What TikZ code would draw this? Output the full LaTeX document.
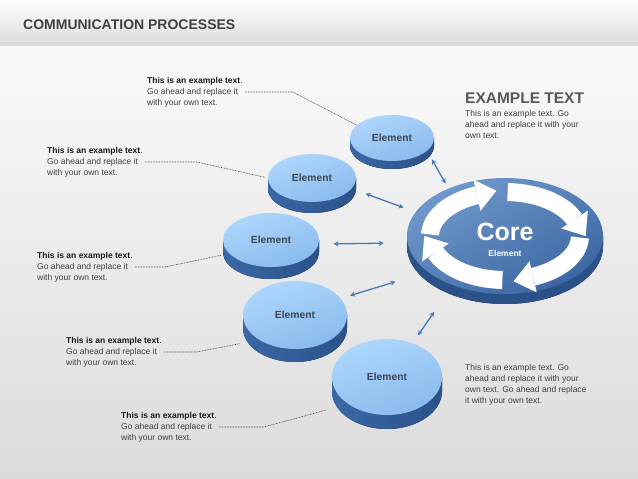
\documentclass[tikz,border=0pt]{standalone}
\usepackage{fontspec}
\setmainfont{Liberation Sans}
\usetikzlibrary{shapes.geometric,arrows.meta,positioning,calc}

\definecolor{facelight}{HTML}{AED6FC}
\definecolor{facedark}{HTML}{88BAEC}
\definecolor{sidedark}{HTML}{3A68A6}
\definecolor{sidelight}{HTML}{8EBBEA}
\definecolor{sideshadow}{HTML}{2B5189}
\definecolor{corelight}{HTML}{7098CB}
\definecolor{coredark}{HTML}{3C67A2}
\definecolor{linkblue}{HTML}{4A78B4}
\definecolor{labelgrey}{HTML}{3C4650}
\definecolor{textgrey}{HTML}{404040}

\tikzset{
    disktop/.style={ellipse, inner sep=0pt, outer sep=0pt,
        top color=facelight, bottom color=facedark, shading angle=20,
        font=\fontsize{10.3}{12}\selectfont\bfseries, text=labelgrey},
    diskside/.style={left color=sidedark, middle color=sidelight, right color=sideshadow},
    coretop/.style={ellipse, inner sep=0pt, outer sep=0pt,
        top color=corelight, bottom color=coredark, shading angle=30},
    coreside/.style={left color=sideshadow, middle color=sidedark, right color=sideshadow},
    coretitle/.style={font=\fontsize{25}{27}\selectfont\bfseries, text=white, inner sep=0pt},
    coresub/.style={font=\fontsize{8.5}{10}\selectfont\bfseries, text=white},
    ringband/.style={draw=white, line width=18pt},
    link/.style={draw=linkblue, line width=1.3pt,
        {Stealth[length=5pt,width=5pt]}-{Stealth[length=5pt,width=5pt]}},
    leader/.style={draw=textgrey, line width=0.6pt, dash pattern=on 0.8pt off 0.8pt},
    note/.style={anchor=west, align=left, inner sep=2pt, text=textgrey,
        font=\fontsize{8.5}{11}\selectfont},
    body/.style={align=left, inner sep=2pt, text=textgrey,
        font=\fontsize{8.5}{11}\selectfont},
    heading/.style={anchor=west, inner sep=2pt, text=black!65,
        font=\fontsize{15.5}{17}\selectfont\bfseries},
}

% name, x, y, x radius, y radius, thickness
\newcommand{\elemdisk}[6]{%
    \fill[diskside] (#2-#4,#3) -- ++(0,-#6)
        arc[start angle=180, end angle=360, x radius=#4pt, y radius=#5pt]
        -- ++(0,#6) -- cycle;
    \node[disktop, minimum width=2*#4pt, minimum height=2*#5pt] (#1) at (#2,#3) {Element};
}

\begin{document}
\begin{tikzpicture}[x=1pt, y=1pt]
    \useasboundingbox (0,0) rectangle (638,-479);
    \fill[top color=black!2, bottom color=black!14] (0,-45) rectangle (638,-479);
    \fill[top color=white, bottom color=black!14] (0,0) rectangle (638,-45);
    \node[anchor=west, inner sep=2pt, text=black!75, font=\fontsize{14}{16}\selectfont\bfseries]
        (title) at (21,-25) {COMMUNICATION PROCESSES};

    \elemdisk{el1}{392}{-138}{42}{23}{8}
    \elemdisk{el2}{312}{-178}{44}{24}{11}
    \elemdisk{el3}{271}{-240}{48}{27}{12}
    \elemdisk{el4}{295}{-315}{52}{34}{13}
    \elemdisk{el5}{387}{-377}{55}{38}{14}

    % core disk
    \fill[coreside] (505-98,-236) -- ++(0,-10)
        arc[start angle=180, end angle=360, x radius=98pt, y radius=58pt]
        -- ++(0,10) -- cycle;
    \node[coretop, minimum width=196pt, minimum height=116pt] (core) at (505,-236) {};
    \foreach \a in {0,90,180,270}{
        \draw[ringband] ([shift={(178-\a:75pt and 44pt)}]core.center)
            arc[start angle=178-\a, end angle=112-\a, x radius=75pt, y radius=44pt];
        \coordinate (p) at ([shift={(112-\a:75pt and 44pt)}]core.center);
        \coordinate (q) at ([shift={(111-\a:75pt and 44pt)}]core.center);
        \fill[white] ($(p)!16pt!90:(q)$) -- ($(p)!20pt!(q)$) -- ($(p)!16pt!-90:(q)$) -- cycle;
    }
    \node[coretitle] (coretxt) at ([yshift=4pt]core.center) {Core};
    \node[coresub] (coresub) at ([yshift=-17pt]core.center) {Element};

    \draw[link, shorten <=10pt, shorten >=6pt] (el1.-20) -- (core.140);
    \draw[link, shorten <=15pt, shorten >=13pt] (el2.-15) -- (core.165);
    \draw[link, shorten <=15pt, shorten >=24pt] (el3.-5) -- (core.184);
    \draw[link, shorten <=10pt, shorten >=34pt] (el4.20) -- (core.205);
    \draw[link, shorten <=18pt, shorten >=27pt] ([xshift=-18pt]el5.north east) -- ([xshift=-18pt]core.235);

    \node[note] (txt1) at (145,-92) {\textcolor{black!90}{\textbf{This is an example text}.}\\Go ahead and replace it\\with your own text.};
    \node[note] (txt2) at (45,-162) {\textcolor{black!90}{\textbf{This is an example text}.}\\Go ahead and replace it\\with your own text.};
    \node[note] (txt3) at (35,-267) {\textcolor{black!90}{\textbf{This is an example text}.}\\Go ahead and replace it\\with your own text.};
    \node[note] (txt4) at (64,-352) {\textcolor{black!90}{\textbf{This is an example text}.}\\Go ahead and replace it\\with your own text.};
    \node[note] (txt5) at (119,-427) {\textcolor{black!90}{\textbf{This is an example text}.}\\Go ahead and replace it\\with your own text.};

    \draw[leader] (txt1.east) -- ++(48,0) -- (el1.160);
    \draw[leader, shorten >=3pt] (txt2.east) -- ++(52,0) -- (el2.180);
    \draw[leader, shorten >=8pt] (txt3.east) -- ++(30,0) -- (el3.198);
    \draw[leader, shorten >=20pt] (txt4.east) -- ++(33,0) -- (el4.215);
    \draw[leader, shorten >=23pt] (txt5.east) -- ++(45,0) -- (el5.215);

    \node[heading] (head) at (463,-98) {EXAMPLE TEXT};
    \node[body, below right=3pt and 0pt of head.south west] (info1)
        {This is an example text. Go\\ahead and replace it with your\\own text.};
    \node[body, anchor=north west] (info2) at (463,-362)
        {This is an example text. Go\\ahead and replace it with your\\own text. Go ahead and replace\\it with your own text.};
\end{tikzpicture}
\end{document}
